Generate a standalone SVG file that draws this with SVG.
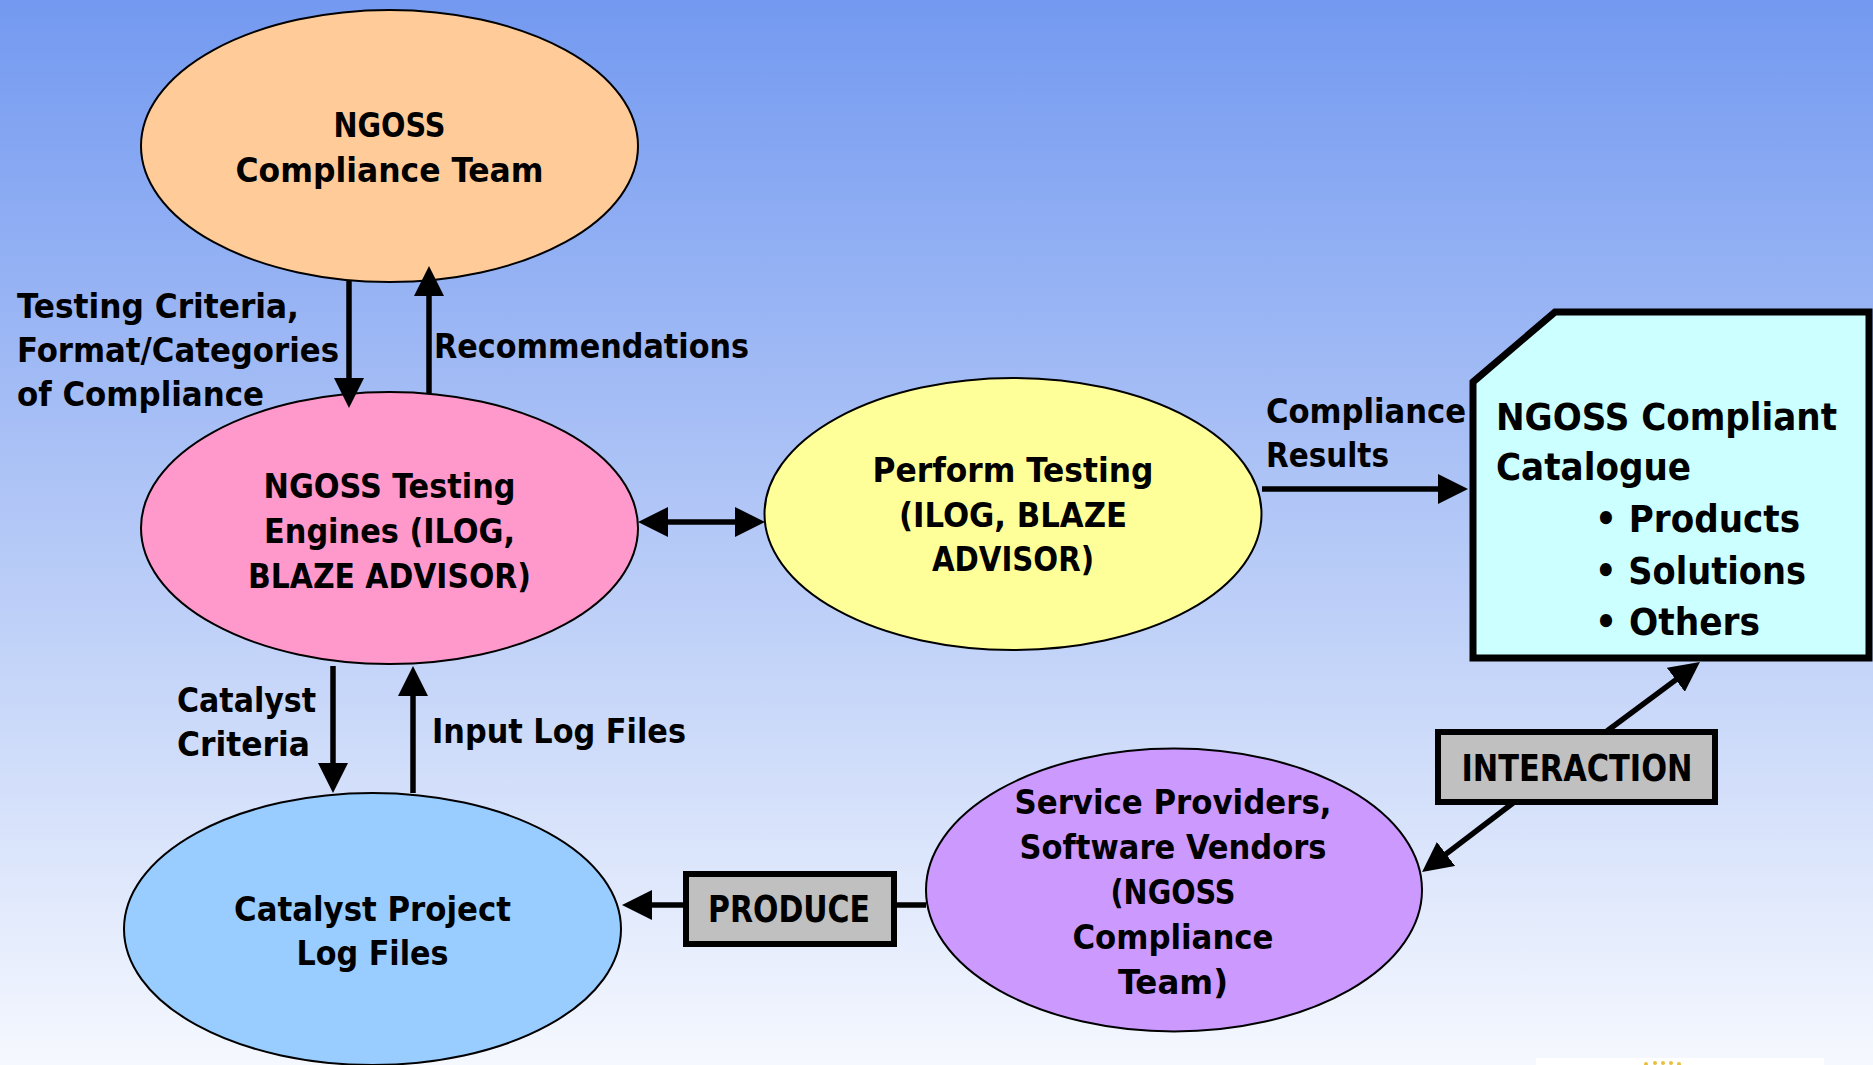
<svg xmlns="http://www.w3.org/2000/svg" width="1873" height="1065" viewBox="0 0 1873 1065">
<defs>
<linearGradient id="bg" x1="0" y1="0" x2="0" y2="1">
<stop offset="0" stop-color="#7399F0"/>
<stop offset="1" stop-color="#F5F8FE"/>
</linearGradient>
<marker id="ah" markerUnits="userSpaceOnUse" markerWidth="30" markerHeight="30" refX="20" refY="15" orient="auto-start-reverse" viewBox="0 0 30 30">
<path d="M0,0 L30,15 L0,30 Z" fill="#000"/>
</marker>
<style>
.t{font-family:"DejaVu Sans Condensed","DejaVu Sans","Liberation Sans",sans-serif;font-stretch:condensed;font-weight:bold;font-size:34px;fill:#000}
.c{text-anchor:middle}
.big{font-size:37px}
.ell{stroke:#000;stroke-width:2}
.box{fill:#C0C0C0;stroke:#000;stroke-width:6}
.ln{fill:none;stroke:#000;stroke-width:5.5}
.arr{marker-end:url(#ah)}
</style>
</defs>
<rect x="0" y="0" width="1873" height="1065" fill="url(#bg)"/>
<g id="logo-fragment">
<rect x="1536" y="1058" width="288" height="7" fill="#FFFFFF"/>
<circle cx="1646" cy="1064" r="2" fill="#E8C040"/>
<circle cx="1655" cy="1063" r="2" fill="#E8C040"/>
<circle cx="1663" cy="1063" r="2" fill="#E8C040"/>
<circle cx="1671" cy="1063" r="2" fill="#E8C040"/>
<circle cx="1679" cy="1064" r="2" fill="#E8C040"/>
</g>

<g id="node-compliance-team">
<ellipse class="ell" cx="389.5" cy="146" rx="248.5" ry="136" fill="#FFCC99"/>
<text class="t c" x="389.5" y="137" textLength="112" lengthAdjust="spacingAndGlyphs">NGOSS</text>
<text class="t c" x="389.5" y="182" textLength="308" lengthAdjust="spacingAndGlyphs">Compliance Team</text>
</g>

<g id="node-testing-engines">
<ellipse class="ell" cx="389.5" cy="528" rx="248.5" ry="136" fill="#FF99CC"/>
<text class="t c" x="389.5" y="498" textLength="252" lengthAdjust="spacingAndGlyphs">NGOSS Testing</text>
<text class="t c" x="389.5" y="543" textLength="251" lengthAdjust="spacingAndGlyphs">Engines (ILOG,</text>
<text class="t c" x="389.5" y="588" textLength="283" lengthAdjust="spacingAndGlyphs">BLAZE ADVISOR)</text>
</g>

<g id="node-perform-testing">
<ellipse class="ell" cx="1013" cy="514" rx="248.5" ry="136" fill="#FFFF99"/>
<text class="t c" x="1013" y="482" textLength="281" lengthAdjust="spacingAndGlyphs">Perform Testing</text>
<text class="t c" x="1013" y="527" textLength="228" lengthAdjust="spacingAndGlyphs">(ILOG, BLAZE</text>
<text class="t c" x="1013" y="571" textLength="162" lengthAdjust="spacingAndGlyphs">ADVISOR)</text>
</g>

<g id="node-log-files">
<ellipse class="ell" cx="372.5" cy="929" rx="248.5" ry="136" fill="#99CCFF"/>
<text class="t c" x="372.5" y="921" textLength="277" lengthAdjust="spacingAndGlyphs">Catalyst Project</text>
<text class="t c" x="372.5" y="965" textLength="152" lengthAdjust="spacingAndGlyphs">Log Files</text>
</g>

<g id="node-service-providers">
<ellipse class="ell" cx="1174" cy="890" rx="248" ry="141.5" fill="#CC99FF"/>
<text class="t c" x="1173" y="814" textLength="317" lengthAdjust="spacingAndGlyphs">Service Providers,</text>
<text class="t c" x="1173" y="859" textLength="307" lengthAdjust="spacingAndGlyphs">Software Vendors</text>
<text class="t c" x="1173" y="904" textLength="125" lengthAdjust="spacingAndGlyphs">(NGOSS</text>
<text class="t c" x="1173" y="949" textLength="201" lengthAdjust="spacingAndGlyphs">Compliance</text>
<text class="t c" x="1173" y="994" textLength="110" lengthAdjust="spacingAndGlyphs">Team)</text>
</g>

<g id="node-catalogue">
<path d="M1473,382 L1555,312 L1869,312 L1869,658 L1473,658 Z" fill="#CCFFFF" stroke="#000" stroke-width="7" stroke-linejoin="miter"/>
<text class="t big" x="1496" y="430" textLength="341" lengthAdjust="spacingAndGlyphs">NGOSS Compliant</text>
<text class="t big" x="1496" y="480" textLength="195" lengthAdjust="spacingAndGlyphs">Catalogue</text>
<text class="t big" x="1595" y="532" textLength="205" lengthAdjust="spacingAndGlyphs">• Products</text>
<text class="t big" x="1595" y="584" textLength="211" lengthAdjust="spacingAndGlyphs">• Solutions</text>
<text class="t big" x="1595" y="635" textLength="165" lengthAdjust="spacingAndGlyphs">• Others</text>
</g>

<g id="connectors">
<path class="ln arr" d="M349,281 V398"/>
<path class="ln arr" d="M429,393 V276"/>
<path class="ln" d="M648,522 H755" marker-start="url(#ah)" marker-end="url(#ah)"/>
<path class="ln arr" d="M333,666 V783"/>
<path class="ln arr" d="M413,793 V676"/>
<path class="ln arr" d="M1262,489 H1458"/>
<path class="ln" d="M926,905 H897"/>
<path class="ln arr" d="M683,905 H632"/>
<path class="ln arr" d="M1607,731 L1691.9,667.85"/>
<path class="ln arr" d="M1513,803 L1430.05,866.07"/>
</g>

<g id="connector-labels">
<text class="t" x="17" y="318" textLength="282" lengthAdjust="spacingAndGlyphs">Testing Criteria,</text>
<text class="t" x="17" y="362" textLength="322" lengthAdjust="spacingAndGlyphs">Format/Categories</text>
<text class="t" x="17" y="406" textLength="247" lengthAdjust="spacingAndGlyphs">of Compliance</text>
<text class="t" x="434" y="358" textLength="315" lengthAdjust="spacingAndGlyphs">Recommendations</text>
<text class="t" x="1266" y="423" textLength="200" lengthAdjust="spacingAndGlyphs">Compliance</text>
<text class="t" x="1266" y="467" textLength="123" lengthAdjust="spacingAndGlyphs">Results</text>
<text class="t" x="177" y="712" textLength="139" lengthAdjust="spacingAndGlyphs">Catalyst</text>
<text class="t" x="177" y="756" textLength="133" lengthAdjust="spacingAndGlyphs">Criteria</text>
<text class="t" x="432" y="743" textLength="254" lengthAdjust="spacingAndGlyphs">Input Log Files</text>
</g>

<g id="node-interaction">
<rect class="box" x="1438" y="732" width="277" height="70"/>
<text class="t c big" x="1577" y="781" textLength="231" lengthAdjust="spacingAndGlyphs">INTERACTION</text>
</g>

<g id="node-produce">
<rect class="box" x="686" y="874" width="208" height="70"/>
<text class="t c big" x="789" y="922" textLength="162" lengthAdjust="spacingAndGlyphs">PRODUCE</text>
</g>
</svg>
